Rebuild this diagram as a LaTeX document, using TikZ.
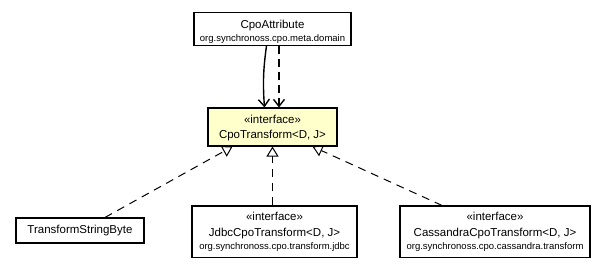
\documentclass[tikz,border=0pt]{standalone}
\usepackage{fontspec}
\setmainfont{Liberation Sans}
\usetikzlibrary{arrows.meta}

\definecolor{ifacefill}{HTML}{FFFFCC}
\newcommand{\pkfont}{\fontsize{9.5}{11}\selectfont}

\begin{document}
\begin{tikzpicture}[x=1pt, y=-1pt,
    umlbox/.style={draw, line width=1.1pt, fill=white, align=center, inner sep=0pt, anchor=base,
        font=\fontsize{11.5}{14}\selectfont},
    realize/.style={draw, line width=1pt, dash pattern=on 8pt off 6pt, -{Triangle[open, length=10pt, width=12pt, line width=1pt]}},
    assoc/.style={draw, line width=1.4pt, -{Straight Barb[length=7pt, width=11pt, line width=1.4pt]}}]
    \useasboundingbox (0,0) rectangle (605,267);
    % classes, placed at the baseline of their last line
    \node[umlbox, minimum width=157pt, text height=28.6pt, text depth=4pt] (attr) at (272.5,41.3)
        {CpoAttribute\\[-1.4pt]\pkfont org.synchronoss.cpo.meta.domain};
    \node[umlbox, fill=ifacefill, minimum width=129pt, text height=30.5pt, text depth=7.5pt] (xform) at (272.5,138.5)
        {«interface»\\[0.5pt]CpoTransform<D, J>};
    \node[umlbox, minimum width=128pt, text height=15pt, text depth=10pt] (tsb) at (80,233)
        {TransformStringByte};
    \node[umlbox, minimum width=165pt, text height=43.5pt, text depth=8pt] (jdbc) at (274.5,249.5)
        {«interface»\\[1.5pt]JdbcCpoTransform<D, J>\\[-0.5pt]\pkfont org.synchronoss.cpo.transform.jdbc};
    \node[umlbox, minimum width=190pt, text height=43.5pt, text depth=8pt] (cass) at (495,249.5)
        {«interface»\\[1.5pt]CassandraCpoTransform<D, J>\\[-0.5pt]\pkfont org.synchronoss.cpo.cassandra.transform};
    % associations
    \draw[assoc] ([xshift=-6pt]attr.south) to[bend right=6] ([xshift=-8pt]xform.north);
    \draw[assoc, dash pattern=on 8pt off 5pt] ([xshift=6.5pt]attr.south) -- ([xshift=6.5pt]xform.north);
    % realizations
    \draw[realize] ([xshift=25pt]tsb.north) -- ([xshift=-40pt]xform.south);
    \draw[realize] (jdbc.north -| xform.south) -- (xform.south);
    \draw[realize] ([xshift=-53pt]cass.north) -- ([xshift=40pt]xform.south);
\end{tikzpicture}
\end{document}
